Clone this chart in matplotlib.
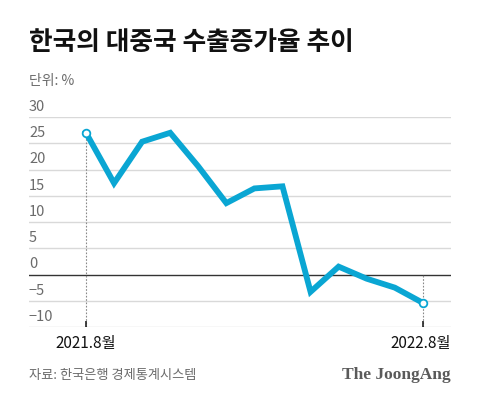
import matplotlib.pyplot as plt
import numpy as np

plt.rcParams['font.family'] = ['Noto Sans CJK KR', 'DejaVu Sans']

# 한국의 대중국 수출증가율 (%), 2021.8 ~ 2022.8
months = ["2021.8", "2021.9", "2021.10", "2021.11", "2021.12", "2022.1", "2022.2",
          "2022.3", "2022.4", "2022.5", "2022.6", "2022.7", "2022.8"]
growth = [27.0, 17.4, 25.3, 27.0, 20.6, 13.6, 16.4, 16.8, -3.3, 1.5, -0.8, -2.5, -5.4]
yticks = [30, 25, 20, 15, 10, 5, 0, -5, -10]
xtick_labels = ["2021.8월", "2022.8월"]

blue = "#0aa6d3"
grey_txt = "#6b6b6b"

fig = plt.figure(figsize=(4.8, 4.03), dpi=100)
ax = fig.add_axes([0.0604, 0.1886, 0.879, 0.521])

x = np.arange(len(growth))
ax.set_xlim(-2.03, 13.0)
ax.set_ylim(-10, 30)

# grid
for v in yticks:
    if v == 0:
        ax.axhline(v, color="#333333", lw=1.0, zorder=1)
    else:
        ax.axhline(v, color="#d9d9d9", lw=1.0, zorder=1)
    ax.text(-2.03, v + 0.6, "\u2212" + str(-v) if v < 0 else str(v),
            color=grey_txt, fontsize=10.5, ha="left", va="bottom")

# dotted guides at both ends
for i in (0, len(growth) - 1):
    ax.vlines(x[i], -10, max(growth[i], 0), colors="#888888", lw=0.8,
              linestyles=(0, (1.5, 1.5)), zorder=1)
    ax.vlines(x[i], -10, -8.8, colors="#222222", lw=1.2, zorder=2)

ax.plot(x, growth, color=blue, lw=4.2, solid_joinstyle="miter", zorder=3)
ax.plot([x[0], x[-1]], [growth[0], growth[-1]], "o", ms=5.5, mfc="white",
        mec=blue, mew=1.3, zorder=4)

for s in ax.spines.values():
    s.set_visible(False)
ax.set_xticks([])
ax.set_yticks([])

ax.text(x[0], -11.5, xtick_labels[0], ha="center", va="top", fontsize=11, color="#111111")
ax.text(13.0, -11.5, xtick_labels[1], ha="right", va="top", fontsize=11, color="#111111")

fig.text(29 / 480, 1 - 43 / 403, "한국의 대중국 수출증가율 추이", fontsize=18.5,
         fontweight="bold", ha="left", va="center", color="#111111")
fig.text(29 / 480, 1 - 81 / 403, "단위: %", fontsize=10, ha="left", va="center",
         color=grey_txt)
fig.text(29 / 480, 1 - 375 / 403, "자료: 한국은행 경제통계시스템", fontsize=9.5,
         ha="left", va="center", color=grey_txt)
fig.text(451 / 480, 1 - 375 / 403, "The JoongAng", fontsize=12.5, fontweight="bold",
         family="Liberation Serif", ha="right", va="center", color="#5a5a5a")

fig.savefig("out.png", dpi=100, facecolor="white")
